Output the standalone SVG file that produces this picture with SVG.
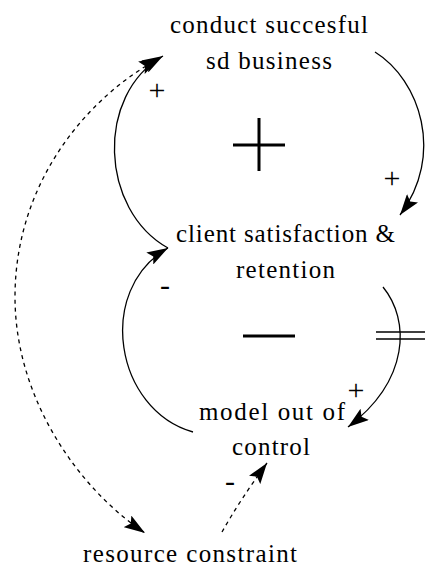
<svg xmlns="http://www.w3.org/2000/svg" width="425" height="567" viewBox="0 0 425 567">
<style>
.lbl{font-family:"Liberation Serif","Times New Roman",serif;font-size:25px;fill:#000}
.sign{font-family:"Liberation Serif","Times New Roman",serif;font-size:30px;fill:#000;text-anchor:middle}
.link{fill:none;stroke:#000;stroke-width:1.3}
.dash{stroke-dasharray:4 4}
.loop{stroke:#000;stroke-width:3;fill:none}
</style>
<defs>
<marker id="ah" markerUnits="userSpaceOnUse" markerWidth="24" markerHeight="14" refX="21" refY="7" orient="auto-start-reverse">
<path d="M0,0 L21,7 L0,14 L4,7 Z" fill="#000"/>
</marker>
</defs>
<rect width="425" height="567" fill="#fff"/>
<g id="connectors">
<path class="link" d="M375,52 C420,80 445,155 400,215" marker-end="url(#ah)"/>
<path class="link" d="M168,248 C100,210 95,95 163,56" marker-end="url(#ah)"/>
<path class="link" d="M193,432 C115,410 95,290 168,248" marker-end="url(#ah)"/>
<path class="link" d="M383,287 C410,320 410,380 348,427" marker-end="url(#ah)"/>
<path class="link dash" d="M160,58 C90,95 15,180 15,297 C15,400 80,490 145,533" marker-start="url(#ah)" marker-end="url(#ah)"/>
<path class="link dash" d="M222,532 Q240,500 267,463" marker-end="url(#ah)"/>
<g id="delay">
<line x1="376" y1="332" x2="425" y2="332" stroke="#000" stroke-width="1.5"/>
<line x1="376" y1="339" x2="425" y2="339" stroke="#000" stroke-width="1.5"/>
</g>
<text class="sign" x="157" y="100">+</text>
<text class="sign" x="392" y="188">+</text>
<text class="sign" x="165" y="295">-</text>
<text class="sign" x="356" y="400">+</text>
<text class="sign" x="230" y="491">-</text>
</g>
<g id="loops">
<path class="loop" d="M233,145 H285 M259,118 V171"/>
<path class="loop" d="M243,336 H295"/>
</g>
<g id="conduct">
<text class="lbl" x="170" y="33" textLength="198">conduct succesful</text>
<text class="lbl" x="206" y="69" textLength="126">sd business</text>
</g>
<g id="client">
<text class="lbl" x="176" y="242" textLength="219">client satisfaction &amp;</text>
<text class="lbl" x="236" y="278" textLength="99">retention</text>
</g>
<g id="model">
<text class="lbl" x="199" y="420" textLength="146">model out of</text>
<text class="lbl" x="232" y="455" textLength="78">control</text>
</g>
<g id="resource">
<text class="lbl" x="83" y="562" textLength="214">resource constraint</text>
</g>
</svg>
